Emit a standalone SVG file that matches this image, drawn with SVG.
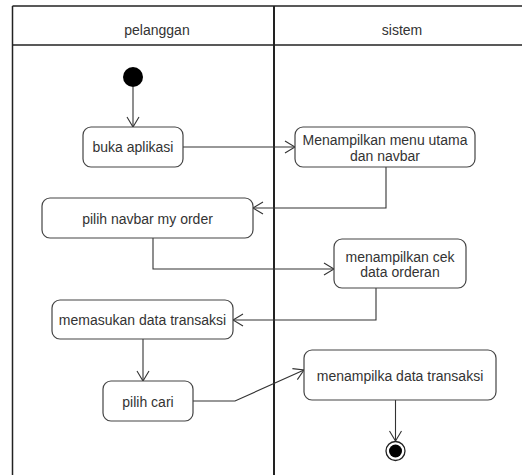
<svg xmlns="http://www.w3.org/2000/svg" width="522" height="475" viewBox="0 0 522 475">
<style>
.lane{stroke:#222;fill:none}
.node rect{fill:#fff;stroke:#444;stroke-width:1.2}
text{font-family:"Liberation Sans",Arial,sans-serif;font-size:14px;fill:#333;text-anchor:middle}
.edge{fill:none;stroke:#333;stroke-width:1.1;marker-end:url(#arr)}
</style>
<defs>
<marker id="arr" markerUnits="userSpaceOnUse" markerWidth="12" markerHeight="14" refX="10" refY="6" orient="auto" viewBox="-1 -1 12 14">
<path d="M0,0 L10,6 L0,12" fill="none" stroke="#333" stroke-width="1.1"/>
</marker>
</defs>
<rect width="522" height="475" fill="#fff"/>
<g id="swimlanes">
<line class="lane" x1="12.5" y1="6" x2="522" y2="6" stroke-width="1.5"/>
<line class="lane" x1="12.5" y1="45" x2="522" y2="45" stroke-width="1.5"/>
<line class="lane" x1="12.5" y1="6" x2="12.5" y2="475" stroke-width="1.5"/>
<line class="lane" x1="274" y1="6" x2="274" y2="475" stroke-width="2"/>
<text x="157" y="35">pelanggan</text>
<text x="402" y="35">sistem</text>
</g>
<g id="connectors">
<path class="edge" d="M133,87 L133,127"/>
<path class="edge" d="M183,147 L295,147"/>
<path class="edge" d="M386,167 L386,208 L253,208"/>
<path class="edge" d="M153,238 L153,269 L334,269"/>
<path class="edge" d="M376,288 L376,320 L233,320"/>
<path class="edge" d="M143,339 L143,381"/>
<path class="edge" d="M193,401 L235,401 L304,370"/>
<path class="edge" d="M395.5,400 L395.5,441"/>
</g>
<g id="start"><circle cx="133" cy="77" r="10" fill="#000"/></g>
<g id="n1" class="node"><rect x="83" y="127" width="100" height="40" rx="8"/><text x="133" y="152">buka aplikasi</text></g>
<g id="n2" class="node"><rect x="295" y="127" width="180" height="40" rx="8"/><text x="385" y="145">Menampilkan menu utama</text><text x="385" y="160.5">dan navbar</text></g>
<g id="n3" class="node"><rect x="42" y="198" width="211" height="40" rx="8"/><text x="147.5" y="224">pilih navbar my order</text></g>
<g id="n4" class="node"><rect x="334" y="239" width="132" height="49" rx="8"/><text x="400" y="261.5">menampilkan cek</text><text x="400" y="277">data orderan</text></g>
<g id="n5" class="node"><rect x="52" y="300" width="181" height="39" rx="8"/><text x="142.5" y="325">memasukan data transaksi</text></g>
<g id="n6" class="node"><rect x="103" y="381" width="90" height="40" rx="8"/><text x="148" y="406.5">pilih cari</text></g>
<g id="n7" class="node"><rect x="304" y="350" width="192" height="50" rx="8"/><text x="400" y="381">menampilka data transaksi</text></g>
<g id="end"><circle cx="395.5" cy="451" r="9.5" fill="#fff" stroke="#222" stroke-width="1.3"/><circle cx="395.5" cy="451" r="6.5" fill="#000"/></g>
</svg>
